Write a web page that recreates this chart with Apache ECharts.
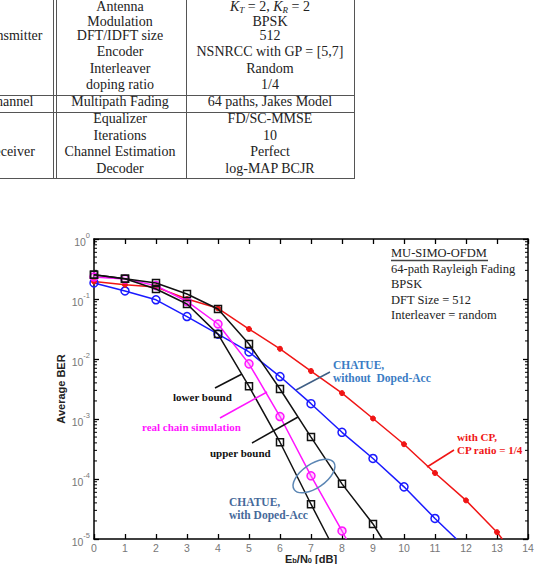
<!DOCTYPE html>
<html><head><meta charset="utf-8">
<script src="https://cdn.jsdelivr.net/npm/echarts@6/dist/echarts.min.js"></script>
<style>
html,body{margin:0;padding:0;background:#fff;}
#wrap{position:relative;width:552px;height:564px;overflow:hidden;}
#chart{position:absolute;left:0;top:0;width:552px;height:564px;}
#table{position:absolute;left:0;top:0;width:552px;height:180px;}
.t{position:absolute;font-family:'Liberation Serif',serif;font-size:14px;color:#222;white-space:nowrap;transform:translate(-50%,-50%);line-height:1;}
.t sub{font-size:9px;vertical-align:-2px;line-height:0;}
.hl{position:absolute;height:1.3px;background:#555;}
.vl{position:absolute;width:1.3px;background:#555;}
</style></head>
<body><div id="wrap"><div id="chart"></div><div id="table"></div></div>
<script>
// ---------- table content ----------
const tableGroups = ['Transmitter', 'Channel', 'Receiver'];
const tableGroupRows = [2, 6, 9];
const tableParams = ['Antenna', 'Modulation', 'DFT/IDFT size', 'Encoder', 'Interleaver', 'doping ratio',
  'Multipath Fading', 'Equalizer', 'Iterations', 'Channel Estimation', 'Decoder'];
const tableValues = ['<i>K</i><sub><i>T</i></sub> = 2, <i>K</i><sub><i>R</i></sub> = 2', 'BPSK', '512', 'NSNRCC with GP = [5,7]',
  'Random', '1/4', '64 paths, Jakes Model', 'FD/SC-MMSE', '10', 'Perfect', 'log-MAP BCJR'];

// ---------- chart data ----------
const ebn0 = [0, 1, 2, 3, 4, 5, 6, 7, 8, 9, 10, 11, 12, 13];
const xTickLabels = ['0','1','2','3','4','5','6','7','8','9','10','11','12','13','14'];
const berWithCP      = [0.196, 0.173, 0.158, 0.100, 0.070, 0.0316, 0.0148, 0.0063, 0.0027, 0.00102, 0.00038, 0.000126, 0.000044, 0.000013];
const berWithCPEnd   = [13.17, 1e-5];
const berNoDoped     = [0.185, 0.136, 0.097, 0.051, 0.026, 0.0131, 0.0051, 0.0018, 0.00060, 0.00022, 0.000074, 0.000022];
const berNoDopedEnd  = [11.69, 1e-5];
const berUpper       = [0.254, 0.218, 0.185, 0.121, 0.068, 0.0178, 0.00316, 0.00050, 0.000083, 0.0000178];
const berUpperEnd    = [9.3, 1e-5];
const berRealChain   = [0.233, 0.215, 0.167, 0.091, 0.0383, 0.0083, 0.0011, 0.000113, 0.0000136];
const berRealChainEnd= [8.14, 1e-5];
const berLower       = [0.254, 0.218, 0.147, 0.0826, 0.026, 0.0035, 0.00041, 0.000038];
const berLowerEnd    = [7.58, 1e-5];
const minorMultipliers = [2, 3, 4, 5, 6, 7, 8, 9];
const minorDecades = [1e-5, 1e-4, 1e-3, 1e-2, 1e-1];

// ---------- build table ----------
(function(){
  const tb = document.getElementById('table');
  const rowY = [6.5, 21.5, 36, 52, 69, 85, 102, 119, 136, 152, 169];
  let html = '';
  tableParams.forEach((p, i) => {
    html += `<div class="t" style="left:120px;top:${rowY[i]}px">${p}</div>`;
    html += `<div class="t" style="left:270px;top:${rowY[i]}px">${tableValues[i]}</div>`;
  });
  tableGroups.forEach((g, i) => {
    html += `<div class="t" style="left:10px;top:${rowY[tableGroupRows[i]]}px">${g}</div>`;
  });
  [95, 111.5, 177.5].forEach(y => { html += `<div class="hl" style="left:0;top:${y}px;width:355px"></div>`; });
  [52.5, 55.5, 185.5, 353.5].forEach(x => { html += `<div class="vl" style="left:${x}px;top:0;height:179px"></div>`; });
  tb.innerHTML = html;
})();

// ---------- chart ----------
function mk(vals, end) {
  const d = vals.map((v, i) => [ebn0[i], v]);
  d.push({ value: end, symbol: 'none' });
  return d;
}
const minorTickValues = [];
minorDecades.forEach(d => minorMultipliers.forEach(m => minorTickValues.push([0, m * d])));

const chart = echarts.init(document.getElementById('chart'), null, { renderer: 'svg' });

const axisLineStyle = { color: '#000', width: 1.5 };
const tickStyle = { inside: true, length: 5, lineStyle: { color: '#000', width: 1.3 } };
const serif = '"Liberation Serif", serif';

function txt(x, y, text, font, fill) {
  return { type: 'text', x: x, y: y, z: 100,
    style: { text: text, font: font, fill: fill, textAlign: 'left', align: 'left', textVerticalAlign: 'middle', verticalAlign: 'middle' } };
}
function ln(x1, y1, x2, y2, c) {
  return { type: 'line', z: 100, shape: { x1, y1, x2, y2 }, style: { stroke: c, lineWidth: 1.5 } };
}

const option = {
  animation: false,
  backgroundColor: '#fff',
  grid: { left: 94, top: 239, width: 434, height: 300, containLabel: false, outerBoundsMode: 'none' },
  xAxis: [{
    type: 'value', min: 0, max: 14, interval: 1, position: 'bottom',
    axisLine: { onZero: false, lineStyle: axisLineStyle },
    axisTick: tickStyle,
    axisLabel: { color: '#777', fontSize: 10.5, fontFamily: 'Arial', margin: 3,
      formatter: v => xTickLabels[Math.round(v)] },
    splitLine: { show: false },
    name: '{e|E}{s|b}{e|/N}{s|0}{e| [dB]}',
    nameLocation: 'middle', nameGap: 19.5, nameMoveOverlap: false,
    nameTextStyle: { verticalAlign: 'middle', rich: {
      e: { fontSize: 11, fontWeight: 'bold', fontFamily: 'Arial', color: '#222', lineHeight: 11, verticalAlign: 'top' },
      s: { fontSize: 7.5, fontWeight: 'bold', fontFamily: 'Arial', color: '#222', lineHeight: 11, verticalAlign: 'bottom' }
    } }
  }, {
    type: 'value', min: 0, max: 14, interval: 1, position: 'top',
    axisLine: { onZero: false, lineStyle: axisLineStyle },
    axisTick: tickStyle, axisLabel: { show: false }, splitLine: { show: false }
  }],
  yAxis: [{
    type: 'log', logBase: 10, min: 1e-5, max: 1, position: 'left',
    axisLine: { onZero: false, lineStyle: axisLineStyle },
    axisTick: tickStyle,
    axisLabel: { color: '#777', margin: 4,
      formatter: v => '{b|10}{s|' + Math.round(Math.log10(v)) + '}',
      rich: {
        b: { fontSize: 10.5, fontFamily: 'Arial', color: '#777', lineHeight: 16, verticalAlign: 'bottom' },
        s: { fontSize: 7.5, fontFamily: 'Arial', color: '#777', lineHeight: 16, verticalAlign: 'top' }
      } },
    splitLine: { show: false },
    name: 'Average BER', nameLocation: 'middle', nameGap: 28, nameRotate: 90, nameMoveOverlap: false,
    nameTextStyle: { fontSize: 11, fontWeight: 'bold', fontFamily: 'Arial', color: '#222' }
  }, {
    type: 'log', logBase: 10, min: 1e-5, max: 1, position: 'right',
    axisLine: { onZero: false, lineStyle: axisLineStyle },
    axisTick: tickStyle, axisLabel: { show: false }, splitLine: { show: false }
  }],
  series: [
    { type: 'custom', name: 'minorTicks', silent: true, z: 1,
      data: minorTickValues,
      renderItem: function (params, api) {
        const p = api.coord([0, api.value(1)]);
        const cs = params.coordSys;
        return { type: 'group', children: [
          { type: 'line', shape: { x1: cs.x, y1: p[1], x2: cs.x + 3, y2: p[1] }, style: { stroke: '#000', lineWidth: 1 } },
          { type: 'line', shape: { x1: cs.x + cs.width - 3, y1: p[1], x2: cs.x + cs.width, y2: p[1] }, style: { stroke: '#000', lineWidth: 1 } }
        ] };
      } },
    { type: 'line', name: 'CHATUE without Doped-Acc', data: mk(berNoDoped, berNoDopedEnd), z: 3,
      symbol: 'circle', symbolSize: 8,
      lineStyle: { color: '#1a1aff', width: 1.5 },
      itemStyle: { color: 'rgba(0,0,0,0)', borderColor: '#1a1aff', borderWidth: 1.5 } },
    { type: 'line', name: 'with CP', data: mk(berWithCP, berWithCPEnd), z: 3,
      symbol: 'circle', symbolSize: 5,
      lineStyle: { color: '#f01515', width: 1.5 },
      itemStyle: { color: '#f01515', borderColor: '#f01515', borderWidth: 1 } },
    { type: 'line', name: 'real chain simulation', data: mk(berRealChain, berRealChainEnd), z: 4,
      symbol: 'circle', symbolSize: 8,
      lineStyle: { color: '#ff14ff', width: 1.5 },
      itemStyle: { color: 'rgba(255,120,255,0.35)', borderColor: '#ff14ff', borderWidth: 1.5 } },
    { type: 'line', name: 'upper bound', data: mk(berUpper, berUpperEnd), z: 5,
      symbol: 'rect', symbolSize: 7,
      lineStyle: { color: '#111', width: 1.5 },
      itemStyle: { color: 'rgba(0,0,0,0)', borderColor: '#111', borderWidth: 1.5 } },
    { type: 'line', name: 'lower bound', data: mk(berLower, berLowerEnd), z: 5,
      symbol: 'rect', symbolSize: 7,
      lineStyle: { color: '#111', width: 1.5 },
      itemStyle: { color: 'rgba(0,0,0,0)', borderColor: '#111', borderWidth: 1.5 } }
  ],
  graphic: [
    txt(391, 253, 'MU-SIMO-OFDM', '12.5px ' + serif, '#222'),
    ln(391, 260.5, 488, 260.5, '#444'),
    txt(391, 269, '64-path Rayleigh Fading', '12.5px ' + serif, '#222'),
    txt(391, 284, 'BPSK', '12.5px ' + serif, '#222'),
    txt(391, 299.5, 'DFT Size = 512', '12.5px ' + serif, '#222'),
    txt(391, 315, 'Interleaver = random', '12.5px ' + serif, '#222'),
    txt(333, 365, 'CHATUE,', 'bold 11.5px ' + serif, '#3a7cc4'),
    txt(333, 378, 'without  Doped-Acc', 'bold 11.5px ' + serif, '#3a7cc4'),
    ln(330, 372, 296, 390, '#3f5f85'),
    txt(173, 397, 'lower bound', 'bold 11px ' + serif, '#111'),
    ln(215, 388, 242, 374, '#111'),
    txt(142, 427, 'real chain simulation', 'bold 11px ' + serif, '#ff14ff'),
    ln(220, 418, 267, 392, '#ff14ff'),
    txt(210, 453, 'upper bound', 'bold 11px ' + serif, '#111'),
    ln(252, 443, 298, 417, '#111'),
    { type: 'ellipse', z: 100, x: 314, y: 476, rotation: 0.6,
      shape: { cx: 0, cy: 0, rx: 24, ry: 12 },
      style: { fill: 'none', stroke: '#5b86b4', lineWidth: 1.5 } },
    txt(229, 502, 'CHATUE,', 'bold 11.5px ' + serif, '#46699a'),
    txt(229, 515, 'with Doped-Acc', 'bold 11.5px ' + serif, '#46699a'),
    txt(457, 437, 'with CP,', 'bold 11px ' + serif, '#f01515'),
    txt(457, 450, 'CP ratio = 1/4', 'bold 11px ' + serif, '#f01515'),
    ln(427, 467, 454, 450, '#f01515')
  ]
};
chart.setOption(option);
</script>
</body></html>
